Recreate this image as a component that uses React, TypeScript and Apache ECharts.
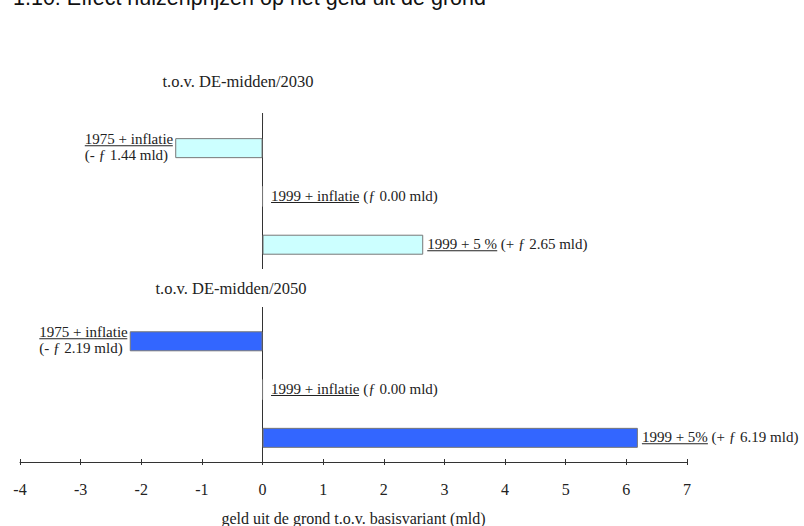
import React, { useEffect, useRef } from "react";
import * as echarts from "echarts";

const titleText = "1.10: Effect huizenprijzen op het geld uit de grond";
const groupTitles = ["t.o.v. DE-midden/2030", "t.o.v. DE-midden/2050"];
const variants2030 = ["1975 + inflatie", "1999 + inflatie", "1999 + 5 %"];
const variants2050 = ["1975 + inflatie", "1999 + inflatie", "1999 + 5%"];
const values2030 = [-1.44, 0.0, 2.65];
const values2050 = [-2.19, 0.0, 6.19];
const xMin = -4;
const xMax = 7;
const xInterval = 1;
const axisTitle = "geld uit de grond t.o.v. basisvariant (mld)";

const SERIF = "'Liberation Serif', 'Times New Roman', serif";
const TEXT = "#222";
const LABEL_SIZE = 15;

function measure(text: string, size: number): number {
  const c = document.createElement("canvas");
  const ctx = c.getContext("2d");
  if (!ctx) return text.length * size * 0.45;
  ctx.font = `${size}px ${SERIF}`;
  return ctx.measureText(text).width;
}

function amountText(v: number): string {
  const sign = v < 0 ? "- ƒ " : v > 0 ? "+ ƒ " : "ƒ ";
  return `(${sign}${Math.abs(v).toFixed(2)} mld)`;
}

function buildItem(name: string, v: number, fill: string, key: string) {
  const ulW = Math.round(measure(name, LABEL_SIZE));
  const base = { fontFamily: SERIF, fontSize: LABEL_SIZE, color: TEXT, align: "left" };
  const neg = v < 0;
  const label = neg
    ? {
        show: true,
        position: "left",
        distance: 2,
        formatter: `{u|${name}}\n{ul| }\n{t|${amountText(v)}}`,
        rich: {
          u: { ...base, lineHeight: 13 },
          ul: { width: ulW, height: 1, lineHeight: 1, fontSize: 1, backgroundColor: TEXT, align: "left" },
          t: { ...base, lineHeight: 18 },
        },
      }
    : {
        show: true,
        position: "right",
        distance: v === 0 ? 8 : 4,
        formatter: `{u|${name}}{t| ${amountText(v)}}\n{ul| }`,
        rich: {
          u: { ...base, lineHeight: 12 },
          t: { ...base, lineHeight: 12 },
          ul: { width: ulW, height: 1, lineHeight: 1, fontSize: 1, backgroundColor: TEXT, align: "left" },
        },
      };
  return {
    name: key,
    value: v,
    itemStyle: { color: fill, borderColor: "#777", borderWidth: 1 },
    label,
  };
}

export default function App() {
  const ref = useRef<HTMLDivElement>(null);
  useEffect(() => {
    if (!ref.current) return;
    const chart = echarts.init(ref.current, undefined, { renderer: "svg" });

    const categories: string[] = [];
    const data: any[] = [];
    variants2030.forEach((n, i) => {
      categories.push("2030-" + i);
      data.push(buildItem(n, values2030[i], "#CCFFFF", "2030-" + i));
    });
    categories.push("gap");
    data.push({ name: "gap", value: "-" });
    variants2050.forEach((n, i) => {
      categories.push("2050-" + i);
      data.push(buildItem(n, values2050[i], "#3366FF", "2050-" + i));
    });

    const baseGraphic: any[] = [
      {
        type: "text",
        x: 13,
        y: -2,
        z: 100,
        style: {
          text: titleText,
          fontFamily: "'Liberation Sans', Arial, sans-serif",
          fontSize: 21.5,
          fill: "#111",
          align: "left",
          verticalAlign: "middle",
        },
      },
      {
        type: "text",
        x: 238,
        y: 81,
        z: 100,
        style: {
          text: groupTitles[0],
          fontFamily: SERIF,
          fontSize: 16.5,
          fill: TEXT,
          align: "center",
          verticalAlign: "middle",
        },
      },
      {
        type: "text",
        x: 231,
        y: 288,
        z: 100,
        style: {
          text: groupTitles[1],
          fontFamily: SERIF,
          fontSize: 16.5,
          fill: TEXT,
          align: "center",
          verticalAlign: "middle",
          backgroundColor: "#fff",
          padding: [13, 4, 8, 4],
        },
      },
    ];

    const option: any = {
      animation: false,
      backgroundColor: "#fff",
      grid: { left: 20, width: 667, top: 124, height: 338, containLabel: false, outerBoundsMode: "none" },
      xAxis: [
        {
          type: "value",
          position: "bottom",
          min: xMin,
          max: xMax,
          interval: xInterval,
          axisLine: { show: true, onZero: false, lineStyle: { color: "#333", width: 1 } },
          axisTick: { show: true, length: 3, lineStyle: { color: "#333" } },
          splitLine: { show: false },
          axisLabel: { fontFamily: SERIF, fontSize: 16, color: TEXT, margin: 19 },
          name: axisTitle,
          nameLocation: "middle",
          nameGap: 48,
          nameTextStyle: { fontFamily: SERIF, fontSize: 16, color: TEXT },
        },
        {
          type: "value",
          position: "bottom",
          min: xMin,
          max: xMax,
          interval: xInterval,
          axisLine: { show: false, onZero: false },
          axisTick: { show: true, inside: true, length: 3, lineStyle: { color: "#333" } },
          splitLine: { show: false },
          axisLabel: { show: false },
        },
      ],
      yAxis: {
        type: "category",
        inverse: true,
        data: categories,
        axisLine: { show: true, onZero: true, lineStyle: { color: "#333", width: 1 } },
        axisTick: { show: false },
        axisLabel: { show: false },
        splitLine: { show: false },
      },
      series: [
        {
          type: "bar",
          xAxisIndex: 0,
          barWidth: 20,
          data,
        },
      ],
      graphic: baseGraphic,
    };
    chart.setOption(option);

    const zeroX = chart.convertToPixel({ xAxisIndex: 0 }, 0) as number;
    chart.setOption({
      graphic: [
        ...baseGraphic,
        {
          type: "line",
          z: 50,
          shape: { x1: zeroX, y1: 113, x2: zeroX, y2: 124 },
          style: { stroke: "#333", lineWidth: 1 },
        },
      ],
    });

    return () => chart.dispose();
  }, []);
  return (
    <div
      ref={ref}
      style={{ position: "fixed", left: 0, top: 0, width: 804, height: 526, overflow: "hidden", background: "#fff" }}
    />
  );
}
